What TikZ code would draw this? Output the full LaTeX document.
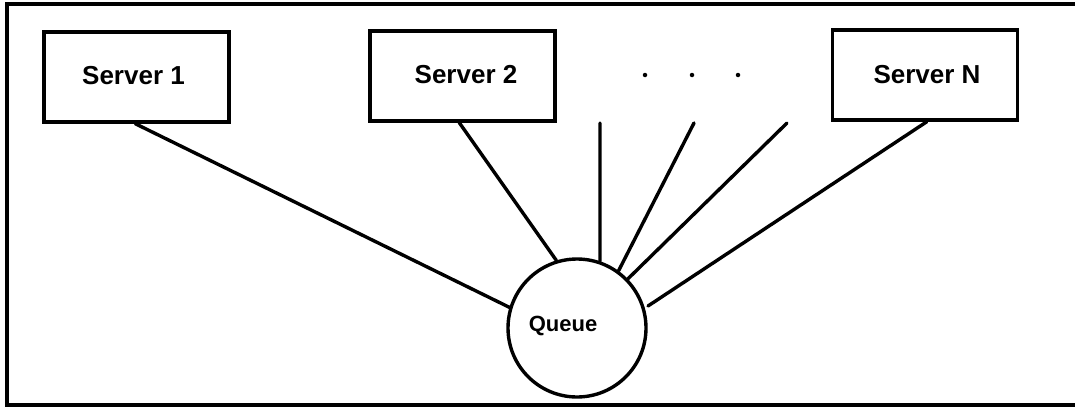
\documentclass[tikz,border=0pt]{standalone}
\usepackage{fontspec}
\setmainfont{Liberation Sans}
\begin{document}
\begin{tikzpicture}[x=1pt,y=-1pt,
  line width=3.4pt,
  label text/.style={font=\fontsize{26}{30}\selectfont\bfseries},
  server/.style={draw, rectangle, minimum width=185pt, minimum height=90pt, inner sep=0pt},
  queue/.style={draw, circle, minimum size=138pt, inner sep=0pt},
  link/.style={line cap=round},
  dot/.style={fill, circle, minimum size=4.5pt, inner sep=0pt, draw=none}]
  \useasboundingbox (0,0) rectangle (1075,407);
  % outer frame (right edge runs off the page)
  \draw (7,4) rectangle (1090,405);

  % servers
  \node[server] (s1) at (136.5,77) {};
  \node[label text] (t1) at (133.5,76) {Server 1};
  \node[server] (s2) at (462.5,76) {};
  \node[label text] (t2) at (466,75) {Server 2};
  \node[server] (sn) at (925,75) {};
  \node[label text] (tn) at (927,75) {Server N};

  % ellipsis between Server 2 and Server N
  \node[dot] (d1) at (645,75) {};
  \node[dot] (d2) at (692,75) {};
  \node[dot] (d3) at (738,75) {};

  % the shared queue
  \node[queue] (q) at (577,328) {};
  \node[font=\fontsize{22}{26}\selectfont\bfseries] (qt) at (563,326) {Queue};

  % free ends of the unlabelled links
  \coordinate (f1) at (600,123);
  \coordinate (f2) at (694,123);
  \coordinate (f3) at (787,123);

  % links to the queue
  \draw[link] ([xshift=93pt]s1.south west) -- (q.163);
  \draw[link] ([xshift=91pt]s2.south west) -- (q.107);
  \draw[link] (f1) -- (q.71);
  \draw[link] (f2) -- (q.54);
  \draw[link] (f3) -- (q.44);
  \draw[link] ([xshift=96pt]sn.south west) -- (648,306);
\end{tikzpicture}
\end{document}
